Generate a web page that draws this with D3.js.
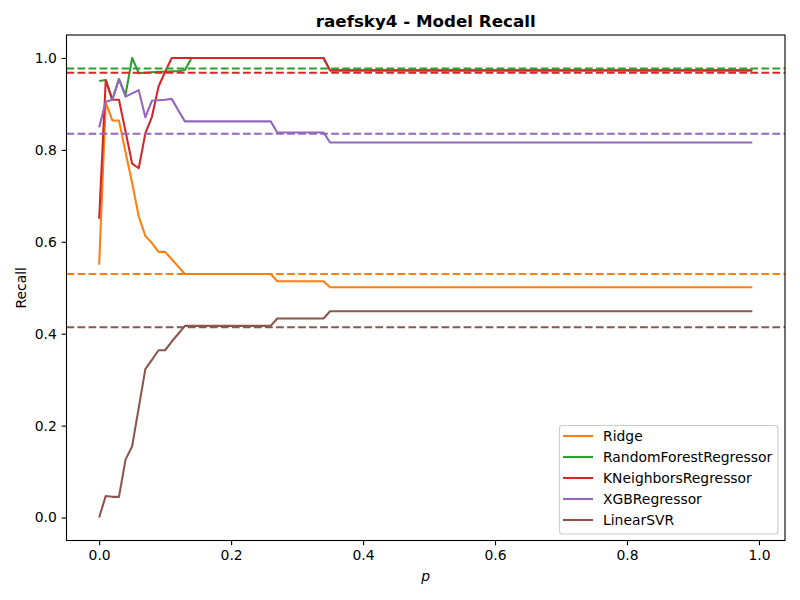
<!DOCTYPE html>
<html>
<head>
<meta charset="utf-8">
<script src="https://cdn.jsdelivr.net/npm/d3@7/dist/d3.min.js"></script>
<style>
  html, body { margin: 0; padding: 0; background: #fff; }
  svg { display: block; font-family: "DejaVu Sans", sans-serif; }
</style>
</head>
<body>
<svg id="chart" width="800" height="600"></svg>
<script>
// ---------- data ----------
const pValues = [
  0.00,0.01,0.02,0.03,0.04,0.05,0.06,0.07,0.08,0.09,
  0.10,0.11,0.12,0.13,0.14,0.15,0.16,0.17,0.18,0.19,
  0.20,0.21,0.22,0.23,0.24,0.25,0.26,0.27,0.28,0.29,
  0.30,0.31,0.32,0.33,0.34,0.35,0.36,0.37,0.38,0.39,
  0.40,0.41,0.42,0.43,0.44,0.45,0.46,0.47,0.48,0.49,
  0.50,0.51,0.52,0.53,0.54,0.55,0.56,0.57,0.58,0.59,
  0.60,0.61,0.62,0.63,0.64,0.65,0.66,0.67,0.68,0.69,
  0.70,0.71,0.72,0.73,0.74,0.75,0.76,0.77,0.78,0.79,
  0.80,0.81,0.82,0.83,0.84,0.85,0.86,0.87,0.88,0.89,
  0.90,0.91,0.92,0.93,0.94,0.95,0.96,0.97,0.98,0.99
];

const ridge = [
  0.550,0.903,0.864,0.864,0.795,0.728,0.655,0.613,0.597,0.578,
  0.578,0.562,0.546,0.530,0.530,0.530,0.530,0.530,0.530,0.530,
  0.530,0.530,0.530,0.530,0.530,0.530,0.530,0.514,0.514,0.514,
  0.514,0.514,0.514,0.514,0.514,0.501,0.501,0.501,0.501,0.501,
  0.501,0.501,0.501,0.501,0.501,0.501,0.501,0.501,0.501,0.501,
  0.501,0.501,0.501,0.501,0.501,0.501,0.501,0.501,0.501,0.501,
  0.501,0.501,0.501,0.501,0.501,0.501,0.501,0.501,0.501,0.501,
  0.501,0.501,0.501,0.501,0.501,0.501,0.501,0.501,0.501,0.501,
  0.501,0.501,0.501,0.501,0.501,0.501,0.501,0.501,0.501,0.501,
  0.501,0.501,0.501,0.501,0.501,0.501,0.501,0.501,0.501,0.501
];

const randomForest = [
  0.950,0.952,0.909,0.954,0.920,1.000,0.967,0.968,0.969,0.970,
  0.970,0.971,0.971,0.974,1.000,1.000,1.000,1.000,1.000,1.000,
  1.000,1.000,1.000,1.000,1.000,1.000,1.000,1.000,1.000,1.000,
  1.000,1.000,1.000,1.000,1.000,0.973,0.973,0.973,0.973,0.973,
  0.973,0.973,0.973,0.973,0.973,0.973,0.973,0.973,0.973,0.973,
  0.973,0.973,0.973,0.973,0.973,0.973,0.973,0.973,0.973,0.973,
  0.973,0.973,0.973,0.973,0.973,0.973,0.973,0.973,0.973,0.973,
  0.973,0.973,0.973,0.973,0.973,0.973,0.973,0.973,0.973,0.973,
  0.973,0.973,0.973,0.973,0.973,0.973,0.973,0.973,0.973,0.973,
  0.973,0.973,0.973,0.973,0.973,0.973,0.973,0.973,0.973,0.973
];

const kNeighbors = [
  0.650,0.952,0.909,0.909,0.840,0.770,0.760,0.836,0.872,0.938,
  0.970,1.000,1.000,1.000,1.000,1.000,1.000,1.000,1.000,1.000,
  1.000,1.000,1.000,1.000,1.000,1.000,1.000,1.000,1.000,1.000,
  1.000,1.000,1.000,1.000,1.000,0.973,0.973,0.973,0.973,0.973,
  0.973,0.973,0.973,0.973,0.973,0.973,0.973,0.973,0.973,0.973,
  0.973,0.973,0.973,0.973,0.973,0.973,0.973,0.973,0.973,0.973,
  0.973,0.973,0.973,0.973,0.973,0.973,0.973,0.973,0.973,0.973,
  0.973,0.973,0.973,0.973,0.973,0.973,0.973,0.973,0.973,0.973,
  0.973,0.973,0.973,0.973,0.973,0.973,0.973,0.973,0.973,0.973,
  0.973,0.973,0.973,0.973,0.973,0.973,0.973,0.973,0.973,0.973
];

const xgb = [
  0.849,0.905,0.909,0.954,0.916,0.923,0.930,0.871,0.907,0.908,
  0.909,0.911,0.886,0.862,0.862,0.862,0.862,0.862,0.862,0.862,
  0.862,0.862,0.862,0.862,0.862,0.862,0.862,0.838,0.838,0.838,
  0.838,0.838,0.838,0.838,0.838,0.816,0.816,0.816,0.816,0.816,
  0.816,0.816,0.816,0.816,0.816,0.816,0.816,0.816,0.816,0.816,
  0.816,0.816,0.816,0.816,0.816,0.816,0.816,0.816,0.816,0.816,
  0.816,0.816,0.816,0.816,0.816,0.816,0.816,0.816,0.816,0.816,
  0.816,0.816,0.816,0.816,0.816,0.816,0.816,0.816,0.816,0.816,
  0.816,0.816,0.816,0.816,0.816,0.816,0.816,0.816,0.816,0.816,
  0.816,0.816,0.816,0.816,0.816,0.816,0.816,0.816,0.816,0.816
];

const linearSVR = [
  0.000,0.047,0.045,0.045,0.126,0.155,0.239,0.323,0.343,0.364,
  0.364,0.383,0.400,0.417,0.417,0.417,0.417,0.417,0.417,0.417,
  0.417,0.417,0.417,0.417,0.417,0.417,0.417,0.433,0.433,0.433,
  0.433,0.433,0.433,0.433,0.433,0.449,0.449,0.449,0.449,0.449,
  0.449,0.449,0.449,0.449,0.449,0.449,0.449,0.449,0.449,0.449,
  0.449,0.449,0.449,0.449,0.449,0.449,0.449,0.449,0.449,0.449,
  0.449,0.449,0.449,0.449,0.449,0.449,0.449,0.449,0.449,0.449,
  0.449,0.449,0.449,0.449,0.449,0.449,0.449,0.449,0.449,0.449,
  0.449,0.449,0.449,0.449,0.449,0.449,0.449,0.449,0.449,0.449,
  0.449,0.449,0.449,0.449,0.449,0.449,0.449,0.449,0.449,0.449
];

const seriesNames = ["Ridge", "RandomForestRegressor", "KNeighborsRegressor", "XGBRegressor", "LinearSVR"];
const seriesValues = [ridge, randomForest, kNeighbors, xgb, linearSVR];
const meanValues = [0.530, 0.977, 0.968, 0.835, 0.414];
const seriesColors = ["#ff7f0e", "#2ca02c", "#d62728", "#9467bd", "#8c564b"];

const xTicks = [0.0, 0.2, 0.4, 0.6, 0.8, 1.0];
const yTicks = [0.0, 0.2, 0.4, 0.6, 0.8, 1.0];

const titleText = "raefsky4 - Model Recall";
const xLabel = "p";
const yLabel = "Recall";

// ---------- layout ----------
const L = 66.5, R = 785, T = 35, B = 540.5;
const svg = d3.select("#chart");

const x = d3.scaleLinear().domain([-0.0495, 1.0395]).range([L, R]);
const y = d3.scaleLinear().domain([-0.05, 1.05]).range([B, T]);

const lw = 2.08;
const fontSize = 13.9;

// clip
svg.append("defs").append("clipPath").attr("id", "clip")
  .append("rect").attr("x", L).attr("y", T).attr("width", R - L).attr("height", B - T);

const plot = svg.append("g").attr("clip-path", "url(#clip)");

const line = d3.line()
  .x((d, i) => x(pValues[i]))
  .y(d => y(d));

seriesValues.forEach((vals, k) => {
  plot.append("path")
    .datum(vals)
    .attr("d", line)
    .attr("fill", "none")
    .attr("stroke", seriesColors[k])
    .attr("stroke-width", lw)
    .attr("stroke-linejoin", "round")
    .attr("stroke-linecap", "butt");
});

meanValues.forEach((m, k) => {
  plot.append("line")
    .attr("x1", L).attr("x2", R)
    .attr("y1", y(m)).attr("y2", y(m))
    .attr("stroke", seriesColors[k])
    .attr("stroke-width", lw)
    .attr("stroke-dasharray", "7.7,3.33");
});

// axes
const fmt = d3.format(".1f");
const xAxis = d3.axisBottom(x).tickValues(xTicks).tickFormat(fmt).tickSizeInner(4.86).tickSizeOuter(0).tickPadding(4.86);
const yAxis = d3.axisLeft(y).tickValues(yTicks).tickFormat(fmt).tickSizeInner(4.86).tickSizeOuter(0).tickPadding(4.86);

const gx = svg.append("g").attr("transform", `translate(0,${B})`).call(xAxis);
const gy = svg.append("g").attr("transform", `translate(${L},0)`).call(yAxis);
[gx, gy].forEach(g => {
  g.select(".domain").remove();
  g.selectAll(".tick line").attr("stroke", "#000").attr("stroke-width", 1.1);
  g.selectAll(".tick text").attr("fill", "#000").style("font-size", fontSize + "px").style("font-family", "DejaVu Sans");
});

// frame
svg.append("rect")
  .attr("x", L).attr("y", T).attr("width", R - L).attr("height", B - T)
  .attr("fill", "none").attr("stroke", "#000").attr("stroke-width", 1.1);

// title and labels
svg.append("text")
  .attr("x", (L + R) / 2).attr("y", 27)
  .attr("text-anchor", "middle")
  .style("font-size", "16.7px").style("font-weight", "bold")
  .text(titleText);

svg.append("text")
  .attr("x", (L + R) / 2).attr("y", 581)
  .attr("text-anchor", "middle")
  .style("font-size", fontSize + "px").style("font-style", "italic")
  .text(xLabel);

svg.append("text")
  .attr("transform", `translate(26,${(T + B) / 2}) rotate(-90)`)
  .attr("text-anchor", "middle")
  .style("font-size", fontSize + "px")
  .text(yLabel);

// legend
const lg = svg.append("g");
lg.append("rect")
  .attr("x", 559.5).attr("y", 425.5).attr("width", 218.5).attr("height", 108.5)
  .attr("rx", 3).attr("ry", 3)
  .attr("fill", "#fff").attr("fill-opacity", 0.8)
  .attr("stroke", "#cccccc").attr("stroke-width", 1.1);

seriesNames.forEach((name, k) => {
  const cy = 436 + k * 21;
  lg.append("line")
    .attr("x1", 563).attr("x2", 593)
    .attr("y1", cy).attr("y2", cy)
    .attr("stroke", seriesColors[k]).attr("stroke-width", lw);
  lg.append("text")
    .attr("x", 603).attr("y", cy)
    .attr("dy", "0.36em")
    .style("font-size", fontSize + "px")
    .text(name);
});
</script>
</body>
</html>
